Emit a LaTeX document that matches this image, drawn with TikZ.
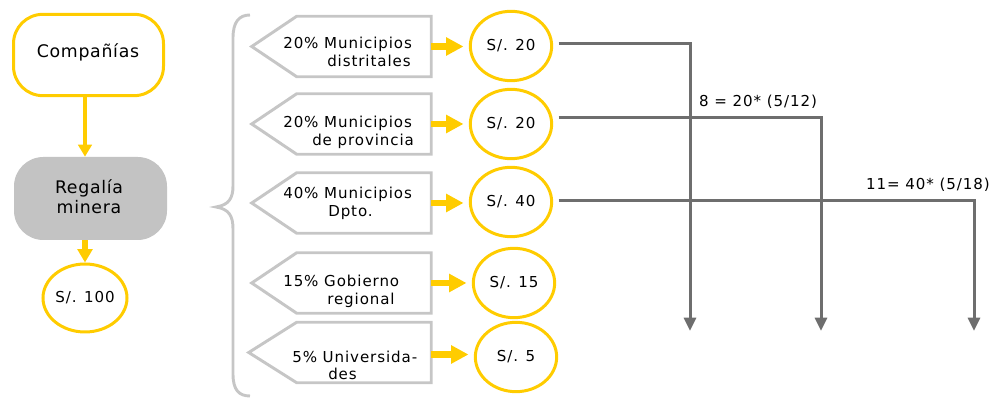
\documentclass[tikz,border=0pt]{standalone}
\usepackage{fontspec}
\setmainfont[LetterSpace=6]{DejaVu Sans}
\newfontfamily\bigfont[LetterSpace=4]{DejaVu Sans}
\usetikzlibrary{arrows.meta,calc,shapes.geometric}
\definecolor{gold}{HTML}{FFCC00}
\definecolor{boxgray}{HTML}{C6C6C6}
\definecolor{fillgray}{HTML}{C3C3C3}
\definecolor{linegray}{HTML}{6E6E6E}
\begin{document}
\begin{tikzpicture}[x=0.75pt,y=-0.75pt,
  txt/.style={inner sep=0pt,anchor=base west,font=\fontsize{11.3}{13.3}\selectfont},
  bigtxt/.style={inner sep=0pt,font=\bigfont\fontsize{13}{15}\selectfont},
  oval/.style={ellipse,draw=gold,line width=2.25pt,minimum width=61pt,minimum height=52pt,inner sep=0pt,font=\fontsize{11.3}{13}\selectfont},
  pentbox/.style={rectangle,minimum width=100.5pt,minimum height=45pt,inner sep=0pt},
  pent/.style={draw=boxgray,line width=2.2pt,line join=miter},
  yarrow/.style={draw=gold,line width=5pt,-{Triangle[length=13pt,width=13pt]},shorten >=4pt},
  garrow/.style={draw=linegray,line width=2.25pt,-{Triangle[length=10pt,width=9pt]}},
  glabel/.style={inner sep=0pt,font=\fontsize{11.3}{12}\selectfont}]
\useasboundingbox (0,0) rectangle (1000,398);

% left column
\node[draw=gold,line width=2.25pt,rounded corners=22pt,minimum width=112.5pt,minimum height=61pt] (comp) at (88.5,55) {};
\node[bigtxt] (compt) at (88,52) {Compañías};
\node[fill=fillgray,rounded corners=22pt,minimum width=114.75pt,minimum height=62.25pt,inner sep=0pt] (reg) at (90.5,198.5) {};
\node[bigtxt,align=center] (regt) at (89,197) {Regalía\\minera};
\node[oval,minimum width=60pt,minimum height=51pt] (e0) at (85,298) {S/. 100};
\draw[draw=gold,line width=3pt,-{Triangle[length=9pt,width=10pt]}] (comp.south -| 85,0) -- (reg.north -| 85,0);
\draw[draw=gold,line width=5pt,-{Triangle[length=10pt,width=11pt]}] (reg.south -| 85,0) -- (e0.north);

% brace
\draw[draw=boxgray,line width=2.2pt] (250,15) .. controls (239,15) and (233,22) .. (233,38) -- (233,186) .. controls (233,198) and (229,205) .. (216,207) .. controls (229,209) and (233,216) .. (233,229) -- (233,374) .. controls (233,390) and (239,396) .. (250,396);

% pentagon rows
\node[pentbox] (b1) at (364,46.5) {};
\node[pentbox] (b2) at (364,124) {};
\node[pentbox] (b3) at (364,203) {};
\node[pentbox] (b4) at (364,283) {};
\node[pentbox] (b5) at (364,352.5) {};
\foreach \b/\t in {b1/45,b2/45,b3/45,b4/45,b5/48}{
  \draw[pent] (\b.north west) -- (\b.north east) -- (\b.south east) -- (\b.south west) -- ($(\b.west)+(-\t,0)$) -- cycle;
}
\node[txt] (t1a) at (283,49) {20\% Municipios};
\node[txt] (t1b) at (327,66.5) {distritales};
\node[txt] (t2a) at (283,128) {20\% Municipios};
\node[txt] (t2b) at (312,145.5) {de provincia};
\node[txt] (t3a) at (283,199) {40\% Municipios};
\node[txt] (t3b) at (328,216.5) {Dpto.};
\node[txt] (t4a) at (283,287) {15\% Gobierno};
\node[txt] (t4b) at (327,304.5) {regional};
\node[txt] (t5a) at (292,363) {5\% Universida-};
\node[txt] (t5b) at (328,380) {des};

\node[oval] (e1) at (511,46) {S/. 20};
\node[oval] (e2) at (511,124) {S/. 20};
\node[oval] (e3) at (511,202) {S/. 40};
\node[oval] (e4) at (514,283) {S/. 15};
\node[oval] (e5) at (516,357) {S/. 5};

\draw[yarrow] (b1.east) -- (b1.east -| e1.west);
\draw[yarrow] (b2.east) -- (b2.east -| e2.west);
\draw[yarrow] (b3.east) -- (b3.east -| e3.west);
\draw[yarrow] (b4.east) -- (b4.east -| e4.west);
\draw[yarrow] ($(b5.east)+(0,2)$) -- ($(b5.east -| e5.west)+(0,2)$);

% gray routes
\coordinate (c1) at (690,44);
\coordinate (c2) at (821,118);
\coordinate (c3) at (974,201);
\coordinate (d1) at (690,331);
\coordinate (d2) at (821,331);
\coordinate (d3) at (974,331);
\draw[garrow,shorten <=4pt] (e1.east |- c1) -- (c1) -- (d1);
\draw[garrow,shorten <=4pt] (e2.east |- c2) -- (c2) -- (d2);
\draw[garrow,shorten <=4pt] (e3.east |- c3) -- (c3) -- (d3);
\node[glabel] (l1) at (758,102) {8 = 20* (5/12)};
\node[glabel] (l2) at (928,185) {11= 40* (5/18)};
\end{tikzpicture}
\end{document}
